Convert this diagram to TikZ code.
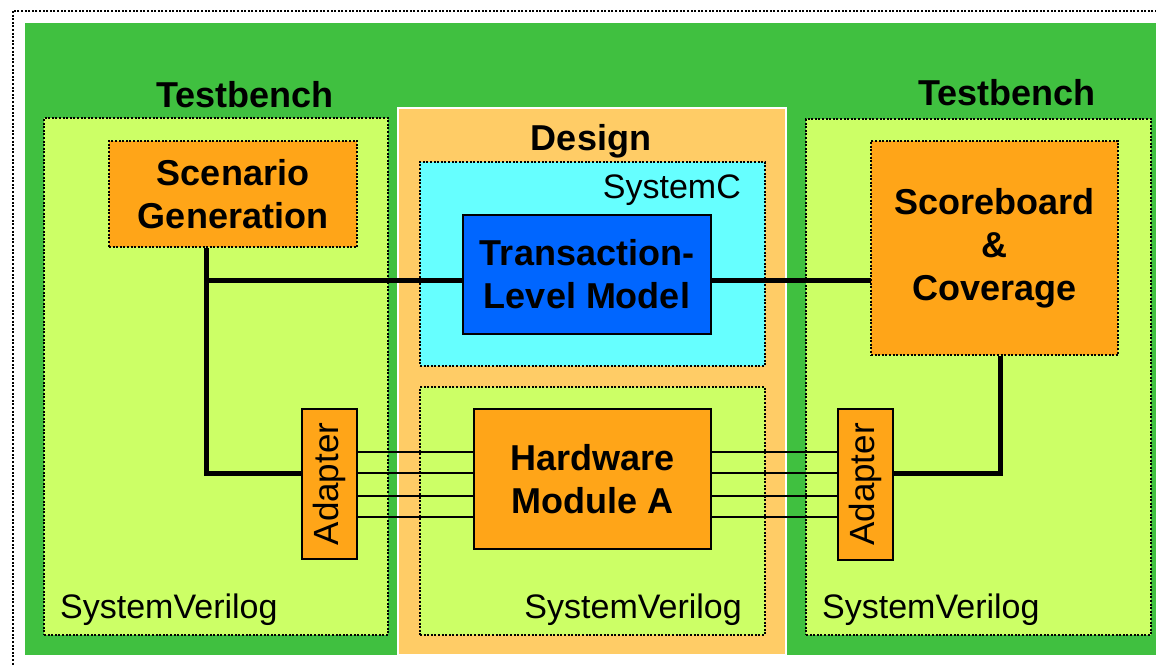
\documentclass[tikz,border=0pt]{standalone}
\usepackage{fontspec}
\setmainfont{Liberation Sans}
\begin{document}
\begin{tikzpicture}[x=1pt,y=-1pt,
  dotbox/.style={draw=black,line width=2.5pt,dash pattern=on 2pt off 1.6pt,inner sep=0pt},
  solidbox/.style={draw=black,line width=2.5pt,inner sep=0pt},
  big/.style={font=\fontsize{36}{43}\selectfont\bfseries,align=center},
  small/.style={font=\fontsize{34}{40}\selectfont},
  wire/.style={line width=5pt},
  bus/.style={line width=2.2pt}]
\definecolor{bggreen}{HTML}{40C040}
\definecolor{lgreen}{HTML}{CCFF66}
\definecolor{orng}{HTML}{FFA518}
\definecolor{lorng}{HTML}{FFCC66}
\definecolor{cyanb}{HTML}{66FFFF}
\definecolor{blueb}{HTML}{0066FF}
\useasboundingbox (0,0) rectangle (1156,665);
\begin{scope}
\clip (0,0) rectangle (1156,665);
\draw[line width=2.5pt,dash pattern=on 2pt off 1.6pt] (13,11) rectangle (1175,690);
\fill[bggreen] (25,23) rectangle (1160,655);
\end{scope}
% containers
\node[dotbox,fill=lgreen,minimum width=344pt,minimum height=517pt] (tbL) at (216,376.5) {};
\node[draw=white,line width=2pt,fill=lorng,inner sep=0pt,minimum width=388pt,minimum height=547pt] (des) at (592,381.5) {};
\node[dotbox,fill=cyanb,minimum width=345pt,minimum height=204pt] (sysc) at (592.5,264) {};
\node[dotbox,fill=lgreen,minimum width=345pt,minimum height=248pt] (svD) at (592.5,511) {};
\node[dotbox,fill=lgreen,minimum width=345pt,minimum height=516pt] (tbR) at (978.5,377) {};
% labels
\node[big,anchor=base] (tbLl) at (245,107) {Testbench};
\node[big,anchor=base] (tbRl) at (1007,105) {Testbench};
\node[big,anchor=base] (desl) at (591,150) {Design};
\node[small,anchor=base east,inner sep=0pt] (syscl) at (741,198) {SystemC};
\node[small,anchor=base west,inner sep=0pt] (svLl) at (60,618) {SystemVerilog};
\node[small,anchor=base east,inner sep=0pt] (svDl) at (742,618) {SystemVerilog};
\node[small,anchor=base west,inner sep=0pt] (svRl) at (822,618) {SystemVerilog};
% coordinates
\coordinate (j1) at (206,280);
\coordinate (j2) at (206,473);
\coordinate (j3) at (1000,473);
% wire behind the model box
\draw[wire] (j1) -- (871,280);
% blocks
\node[dotbox,fill=orng,big,minimum width=248pt,minimum height=106pt] (scen) at (233,194) {Scenario\\Generation};
\node[solidbox,fill=blueb,big,minimum width=248pt,minimum height=119pt] (tlm) at (587,274.5) {Transaction-\\Level Model};
\node[dotbox,fill=orng,big,minimum width=247pt,minimum height=214pt] (sb) at (994.5,248) {Scoreboard\\\&\\Coverage};
\node[solidbox,fill=orng,big,minimum width=237pt,minimum height=140pt] (hw) at (592.5,479) {Hardware\\Module A};
\node[solidbox,fill=orng,minimum width=55pt,minimum height=150pt] (adL) at (329.5,484) {};
\node[small,rotate=90,font=\fontsize{35}{40}\selectfont] (adLt) at (adL.center) {Adapter};
\node[solidbox,fill=orng,minimum width=55pt,minimum height=151pt] (adR) at (865.5,484.5) {};
\node[small,rotate=90,font=\fontsize{35}{40}\selectfont] (adRt) at (adR.center) {Adapter};
% connectors
\draw[wire] (j1 |- scen.south) -- (j2) -- (j2 -| adL.west);
\draw[wire] (adR.east |- j3) -- (j3) -- (j3 |- sb.south);
\foreach \yy in {452,473,496,517}{
  \draw[bus] (adL.east |- 0,\yy) -- (hw.west |- 0,\yy);
  \draw[bus] (hw.east |- 0,\yy) -- (adR.west |- 0,\yy);
}
\end{tikzpicture}
\end{document}
